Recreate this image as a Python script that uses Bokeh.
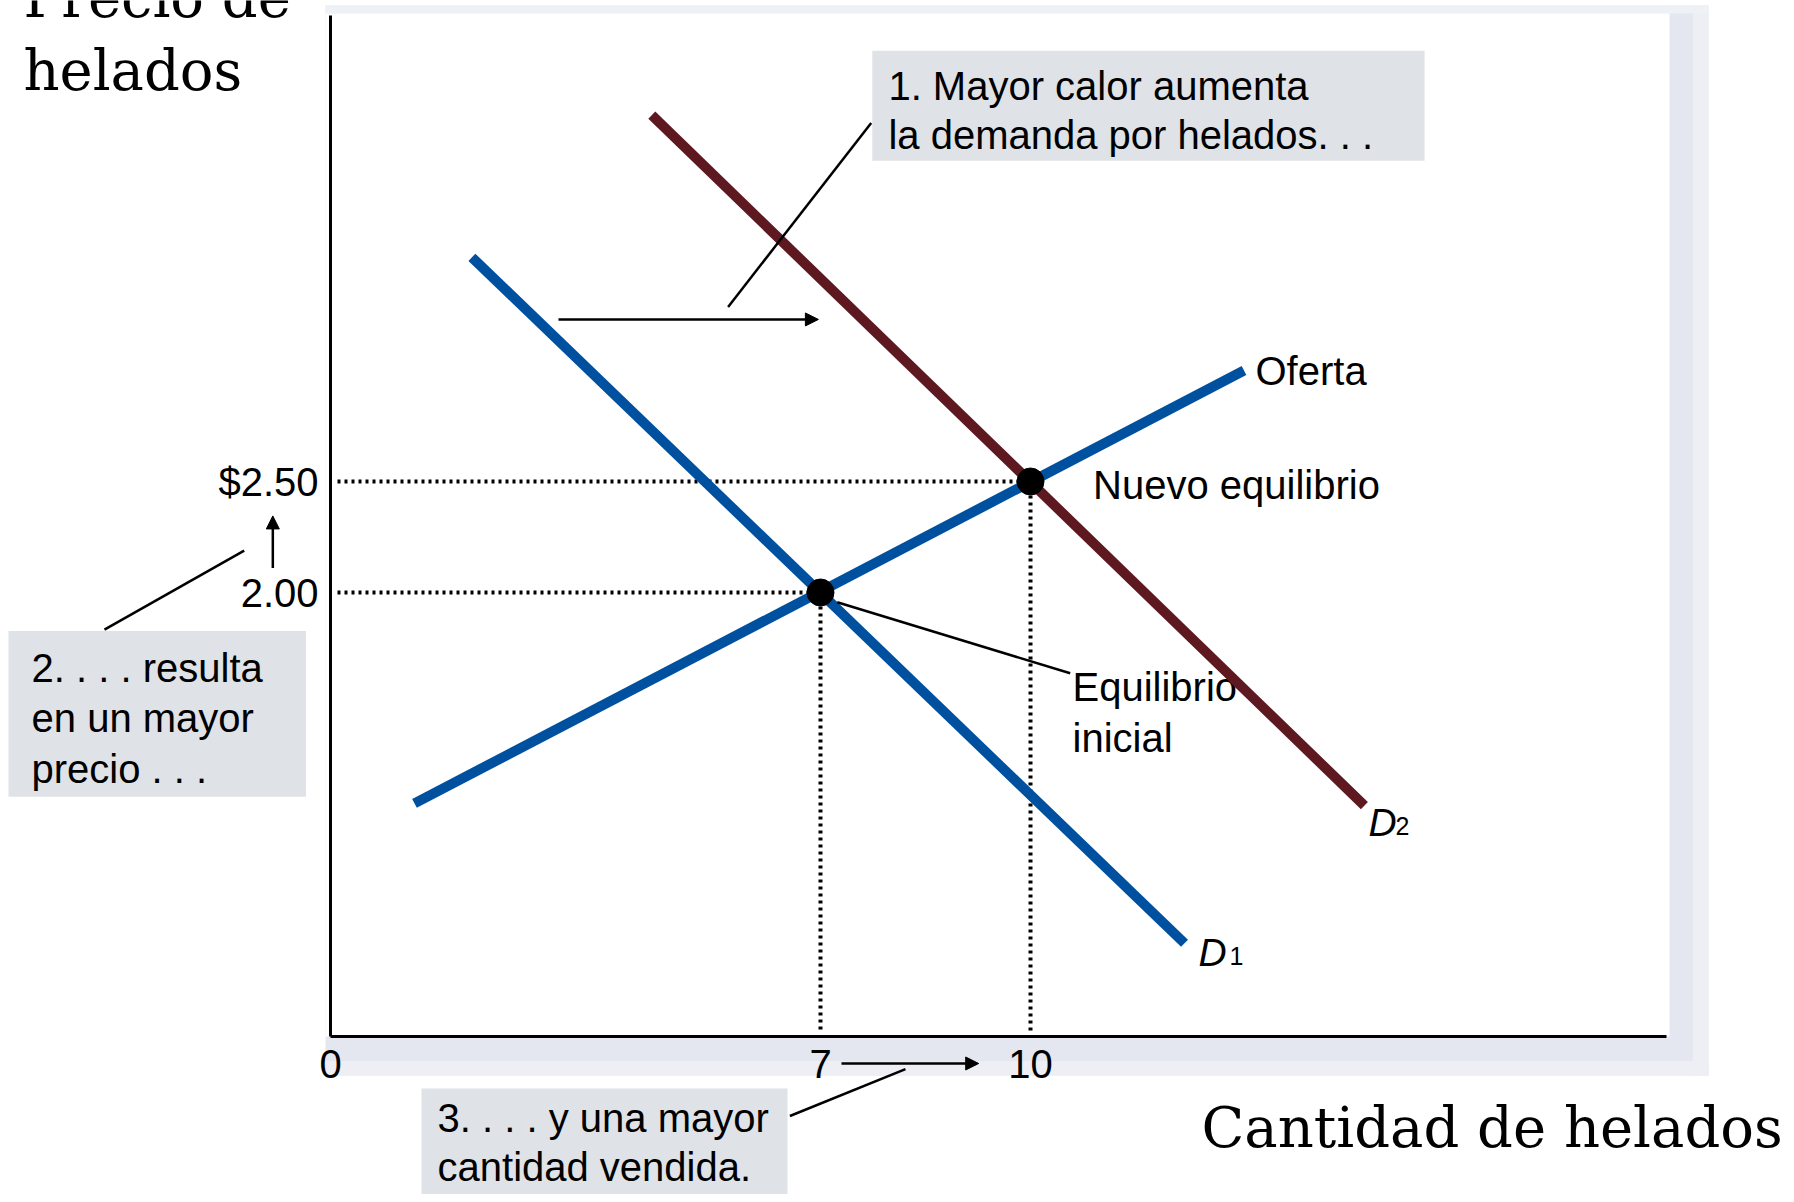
from bokeh.plotting import figure
from bokeh.models import LinearAxis, FixedTicker, Range1d, Arrow, NormalHead
from bokeh.core.properties import value
from bokeh.embed import file_html
from bokeh.resources import INLINE

# ---------------- data ----------------
quantity_ticks = [0, 7, 10]
quantity_tick_labels = ["0", "7", "10"]
price_ticks = [2.0, 2.5]
price_tick_labels = ["2.00", "$2.50"]

supply_q = [1.2, 13.05]
supply_p = [1.05, 3.0]
d1_q = [2.02, 12.2]
d1_p = [3.51, 0.42]
d2_q = [4.59, 14.77]
d2_p = [4.15, 1.04]

eq_q = [7, 10]
eq_p = [2.0, 2.5]

# ---------------- layout constants (data units) ----------------
W, H = 1786, 1194
X0, X1 = -330 / 70, (W - 330) / 70
Y0, Y1 = (1036 - H) / 222, 1036 / 222
SANS = value("Liberation Sans")
SERIF = value("DejaVu Serif")
BLUE = "#0050A0"
RED = "#5E1820"
BOXC = "#DFE2E7"

p = figure(width=W, height=H, x_range=Range1d(X0, X1), y_range=Range1d(Y0, Y1),
           output_backend="svg", toolbar_location=None, min_border=0,
           x_axis_type=None, y_axis_type=None)
p.outline_line_color = None
p.background_fill_color = "white"
p.border_fill_color = "white"

# panel with shadow
p.quad(left=[-0.071], right=[19.686], top=[4.644], bottom=[-0.176], fill_color="#E4E7EF", line_color=None)
p.quad(left=[19.46], right=[19.686], top=[4.644], bottom=[-0.176], fill_color="#EDEFF4", line_color=None)
p.quad(left=[-0.071], right=[19.686], top=[-0.11], bottom=[-0.176], fill_color="#EDEFF4", line_color=None)
p.quad(left=[-0.071], right=[19.686], top=[4.644], bottom=[4.608], fill_color="#EEF1F5", line_color=None)
p.quad(left=[-0.071], right=[19.129], top=[4.608], bottom=[0.0], fill_color="white", line_color=None)

# axes
xaxis = LinearAxis(fixed_location=0, bounds=(0, 19.09),
                   ticker=FixedTicker(ticks=quantity_ticks),
                   major_label_overrides=dict(zip(quantity_ticks, quantity_tick_labels)))
yaxis = LinearAxis(fixed_location=0, bounds=(0, 4.6),
                   ticker=FixedTicker(ticks=price_ticks),
                   major_label_overrides=dict(zip(price_ticks, price_tick_labels)))
for ax in (xaxis, yaxis):
    ax.axis_line_width = 3
    ax.axis_line_color = "black"
    ax.major_tick_out = 0
    ax.major_tick_in = 0
    ax.minor_tick_out = 0
    ax.minor_tick_in = 0
    ax.major_label_text_font = "Liberation Sans"
    ax.major_label_text_font_size = "40px"
    ax.major_label_text_color = "black"
xaxis.major_label_standoff = 13
yaxis.major_label_standoff = 12
p.add_layout(xaxis, "below")
p.add_layout(yaxis, "left")

# dotted guides
for q, pr in zip(eq_q, eq_p):
    p.line([0.1, q], [pr, pr], line_color="black", line_width=4, line_dash="3 4")
    p.line([q, q], [pr, 0.02], line_color="black", line_width=4, line_dash="3 4")

# annotation boxes
p.quad(left=[7.74, -4.6, 1.3], right=[15.63, -0.35, 6.529],
       top=[4.44, 1.827, -0.234], bottom=[3.945, 1.08, -0.748],
       fill_color=BOXC, line_color=None)

# texts under curves
p.text(x=[10.6, 10.6], y=[1.576, 1.346], text=["Equilibrio", "inicial"],
       text_font=SANS, text_font_size="40px", text_baseline="alphabetic", text_align="left")

# curves
p.line(supply_q, supply_p, line_color=BLUE, line_width=10)
p.line(d1_q, d1_p, line_color=BLUE, line_width=10)
p.line(d2_q, d2_p, line_color=RED, line_width=10)

# equilibria
p.scatter(eq_q, eq_p, size=27, marker="circle", fill_color="black", line_color="black")

# leader lines
p.segment(x0=[7.724, -3.229, 8.214, 7.239], y0=[4.115, 1.833, -0.147, 1.956],
          x1=[5.68, -1.233, 6.563, 10.567], y1=[3.286, 2.189, -0.358, 1.636],
          line_color="black", line_width=2.5)

# arrows
for xs, ys, xe, ye in [(3.257, 3.23, 6.97, 3.23), (-0.824, 2.11, -0.824, 2.345), (7.3, -0.1216, 9.26, -0.1216)]:
    p.add_layout(Arrow(end=NormalHead(size=13, fill_color="black", line_color="black", line_width=1),
                       x_start=xs, y_start=ys, x_end=xe, y_end=ye,
                       line_color="black", line_width=2.5))

# sans texts
p.text(x=[7.97, 7.97, -4.271, -4.271, -4.271, 1.529, 1.529, 13.214, 10.894],
       y=[4.281, 4.059, 1.658, 1.433, 1.203, -0.369, -0.590, 2.998, 2.486],
       text=["1. Mayor calor aumenta", "la demanda por helados. . .",
             "2. . . . resulta", "en un mayor", "precio . . .",
             "3. . . . y una mayor", "cantidad vendida.",
             "Oferta", "Nuevo equilibrio"],
       text_font=SANS, text_font_size="40px", text_baseline="alphabetic", text_align="left")

# curve names
p.text(x=[12.4, 14.829], y=[0.380, 0.964], text=["D", "D"], text_font=SANS,
       text_font_size="39px", text_font_style="italic", text_baseline="alphabetic", text_align="left")
p.text(x=[12.843, 15.214], y=[0.361, 0.946], text=["1", "2"], text_font=SANS,
       text_font_size="25px", text_baseline="alphabetic", text_align="left")

# axis titles (serif)
p.text(x=[-4.386, -4.386, 12.443], y=[4.68, 4.351, -0.409],
       text=["Precio de", "helados", "Cantidad de helados"],
       text_font=SERIF, text_font_size="56px", text_baseline="alphabetic", text_align="left")

open("out.html", "w").write(file_html(p, INLINE))
